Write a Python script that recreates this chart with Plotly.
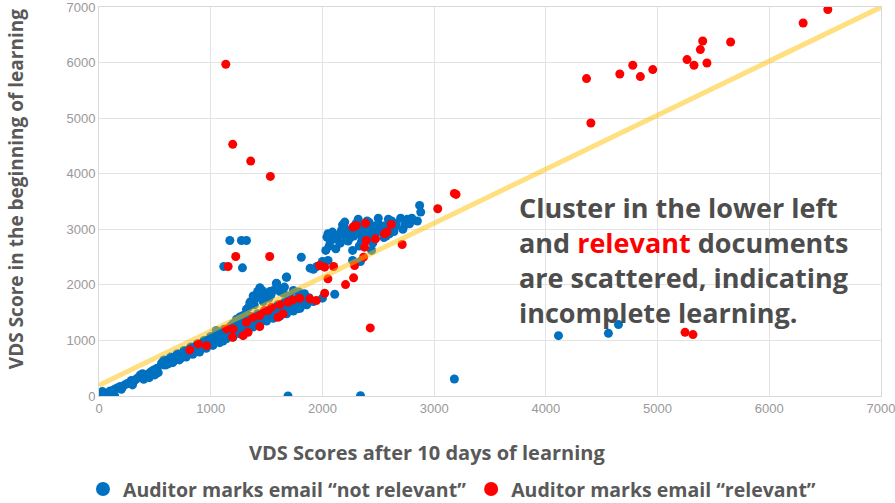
import plotly.graph_objects as go

# ---- data ----
blue_x = [10, 20, 30, 15, 40, 60, 80, 100, 120, 140, 130, 150, 170, 190, 210, 230, 250, 270, 290, 310,
          330, 350, 370, 390, 410, 430, 450, 470, 490, 510, 530, 560, 580, 600, 620, 640, 660, 680, 700, 720,
          740, 760, 780, 800, 820, 840, 860, 880, 900, 920, 940, 960, 980, 1000, 1020, 1040, 1060, 1080, 1100, 1120,
          1140, 1050, 1070, 1000, 960, 1090, 1110, 1130, 1150, 1160, 1180, 1200, 1220, 1240, 1260, 1280, 1300, 1320, 1340, 1360,
          1380, 1400, 1420, 1440, 1460, 1480, 1500, 1520, 1540, 1560, 1580, 1600, 1620, 1640, 1660, 1680, 1700, 1720, 1740, 1760,
          1780, 1800, 1820, 1840, 1200, 1230, 1260, 1290, 1320, 1340, 1360, 1380, 1400, 1420, 1440, 1460, 1480, 1500, 1520, 1540,
          1560, 1590, 1620, 1650, 1680, 1700, 1740, 1790, 1840, 1890, 1920, 1950, 1980, 2000, 2050, 2110,
          2030, 2040, 2050, 2070, 2090, 2100, 2120, 2130, 2150, 2170, 2190, 2200, 2210, 2230, 2240, 2260, 2270, 2280, 2300, 2320,
          2330, 2340, 2360, 2380, 2400, 2410, 2420, 2430, 2440, 2450, 2470, 2480, 2500, 2510, 2530, 2550, 2570, 2590, 2610, 2640,
          2660, 2700, 2720, 2740, 2760, 2780, 2870, 2880, 2340, 2270,
          580, 640, 700, 760, 820, 880, 940, 1000, 1060, 1120, 1180, 1240, 1300, 1360, 1420, 1480, 1540, 1600, 1660, 1720,
          1780, 1840, 1880,
          600, 660, 720, 780, 840, 900, 960, 1020, 1080, 1140, 1200, 1260, 1320, 1380, 1440, 1500, 1560, 1620, 1680, 1740,
          1800, 1860, 1920, 2000,
          60, 100, 200, 300, 400, 450, 500, 520, 480,
          2060, 2160, 2250, 2350, 2450, 2550, 2650, 2600, 2180, 2300, 2500, 2620, 2800, 2850,
          1350, 1420, 1480, 1530, 1610, 1660, 1390, 1470,
          1811, 1117, 1284, 1171, 1275, 1320, 1677, 1588, 1692, 2341, 3181, 4113, 4560, 4650]
blue_y = [0, 30, 80, 50, 10, 40, 60, 90, 20, 0, 110, 130, 150, 170, 160, 200, 220, 240, 280, 260,
          300, 330, 380, 400, 360, 380, 410, 440, 470, 480, 420, 590, 560, 620, 580, 650, 620, 690, 660, 720,
          690, 750, 720, 790, 760, 820, 790, 860, 830, 900, 870, 940, 910, 980, 950, 1040, 1000, 1100, 1060, 1150,
          1110, 1180, 1140, 1050, 1000, 1010, 990, 1060, 1200, 1080, 1150, 1120, 1220, 1180, 1260, 1200, 1300, 1240, 1330, 1290,
          1380, 1320, 1420, 1370, 1450, 1400, 1480, 1440, 1500, 1470, 1530, 1500, 1560, 1530, 1580, 1600, 1560, 1620, 1650, 1600,
          1570, 1680, 1720, 1700, 1300, 1380, 1420, 1450, 1560, 1600, 1700, 1800, 1750, 1880, 1950, 1900, 1850, 1800, 1760, 1820,
          1900, 2020, 1880, 1850, 2140, 1800, 1900, 1870, 1840, 2300, 2280, 2330, 2350, 2420, 2440, 1830,
          2620, 2860, 2920, 2780, 2950, 2880, 2650, 2820, 2900, 2980, 3050, 3130, 2860, 2790, 2940, 3000, 2620, 2880, 2960, 3180,
          2700, 2900, 3050, 2950, 3150, 2840, 3120, 3010, 2620, 2920, 3050, 2990, 3100, 2960, 3000, 3060, 2880, 3180, 3020, 2960,
          3100, 3200, 3000, 3080, 3180, 3100, 3430, 3310, 2420, 2440,
          650, 700, 760, 820, 880, 940, 1000, 1070, 1120, 1200, 1260, 1330, 1380, 1430, 1480, 1530, 1580, 1640, 1690, 1720,
          1760, 1800, 1770,
          560, 600, 650, 700, 750, 790, 860, 910, 960, 1030, 1060, 1120, 1180, 1240, 1300, 1350, 1400, 1440, 1480, 1530,
          1580, 1640, 1700, 1760,
          0, 30, 120, 200, 300, 330, 380, 500, 420,
          2700, 2750, 2850, 2780, 2750, 2850, 3050, 2920, 3080, 3100, 3200, 3150, 3200, 3150,
          1680, 1820, 1760, 1880, 1930, 1960, 1640, 1700,
          2497, 2330, 2306, 2798, 2798, 2798, 2137, 2029, 0, 5, 306, 1086, 1128, 1285]

red_x = [4364, 4403, 4662, 4778, 4846, 4957, 5264, 5326, 5383, 5404, 5442, 5654, 6303, 6524,
         1135, 1197, 1358, 1534, 1156, 1224, 1528, 3032, 3196, 3181, 2428, 5246, 5317,
         2273, 2303, 2386, 2392, 2475, 2377, 2368, 2556, 2577, 2616, 2714, 2288, 2279, 2207, 1975, 2020, 2100, 2049,
         2020, 1886, 1945, 1736, 1796, 1692, 1617, 1543, 1483, 1647, 1602, 1439, 1379, 1320, 1439, 1334, 1290, 1200,
         1141, 1195, 962, 888, 813, 1513]
red_y = [5712, 4912, 5795, 5951, 5748, 5874, 6054, 5951, 6234, 6389, 5993, 6371, 6713, 6955,
         5970, 4528, 4227, 3951, 2330, 2510, 2510, 3369, 3627, 3645, 1225, 1146, 1105,
         3039, 3069, 3110, 2798, 2828, 2678, 2498, 2919, 2948, 3087, 2726, 2348, 2126, 2005, 2348, 2318, 2330, 2108,
         1849, 1748, 1717, 1730, 1759, 1687, 1645, 1596, 1537, 1477, 1416, 1447, 1416, 1326, 1249, 1146, 1086, 1207,
         1207, 1056, 906, 937, 829, 1537]

trend_slope = 0.972
trend_intercept = 194
trend_x = [0, 7000]

series_names = ["Auditor marks email \u201cnot relevant\u201d", "Auditor marks email \u201crelevant\u201d"]
series_colors = ["#0070C0", "#FF0000"]
x_title = "VDS Scores after 10 days of learning"
y_title = "VDS Score in the beginning of learning"
tick_vals = [0, 1000, 2000, 3000, 4000, 5000, 6000, 7000]

GRAY = "#595959"
TXT_FONT = "Open Sans"

fig = go.Figure()
for xs, ys, nm, col in [(blue_x, blue_y, series_names[0], series_colors[0]),
                        (red_x, red_y, series_names[1], series_colors[1])]:
    fig.add_trace(go.Scatter(x=xs, y=ys, mode="markers", name=nm, legendgroup=nm, showlegend=False,
                             marker=dict(color=col, size=9, line=dict(width=0))))
fig.add_trace(go.Scatter(x=trend_x, y=[trend_intercept + trend_slope * v for v in trend_x],
                         mode="lines", showlegend=False, hoverinfo="skip",
                         line=dict(color="rgba(255,192,0,0.5)", width=5)))
# legend entries (larger legend symbols, as in the original)
for nm, col in zip(series_names, series_colors):
    fig.add_trace(go.Scatter(x=[None], y=[None], mode="markers", name=nm, legendgroup=nm,
                             marker=dict(color=col, size=14, line=dict(width=0))))

axis_common = dict(range=[0, 7000], tickvals=tick_vals, showgrid=True, gridcolor="#E3E3E3", gridwidth=1,
                   zeroline=False, showline=True, linecolor="#D9D9D9", linewidth=1, mirror=True,
                   ticks="", automargin=False, ticklabeloverflow="allow",
                   tickfont=dict(family="Liberation Sans", size=13, color="#999999"))

fig.update_layout(
    width=895, height=503,
    margin=dict(l=99, r=14, t=7, b=107, autoexpand=False),
    paper_bgcolor="white", plot_bgcolor="white",
    xaxis=dict(**axis_common),
    yaxis=dict(**axis_common),
    legend=dict(orientation="h", xref="container", yref="paper", x=0.505, xanchor="center",
                y=-0.24, yanchor="middle", itemsizing="trace",
                font=dict(family=TXT_FONT, size=19.5, color=GRAY, weight="bold"),
                itemwidth=30, tracegroupgap=0),
    showlegend=True,
)

# axis titles (placed as in the original, x title sits left of the plot centre)
fig.add_annotation(x=0.419, y=-0.144, xref="paper", yref="paper", xanchor="center", yanchor="middle",
                   showarrow=False, text=x_title,
                   font=dict(family=TXT_FONT, size=20, color=GRAY, weight="bold"))
fig.add_annotation(x=-0.106, y=0.532, xref="paper", yref="paper", xanchor="center", yanchor="middle",
                   showarrow=False, text=y_title, textangle=-90,
                   font=dict(family=TXT_FONT, size=19, color=GRAY, weight="bold"))

fig.add_annotation(
    x=3744, y=3760, xref="x", yref="y", xanchor="left", yanchor="top", align="left", showarrow=False,
    text="Cluster in the lower left<br>and <span style='color:#FF0000'>relevant</span> documents<br>"
         "are scattered, indicating<br>incomplete learning.",
    font=dict(family=TXT_FONT, size=27, color="#4D4D4D", weight="bold"),
)

fig.write_html("out.html", config={"displayModeBar": False},
               post_script="document.body.style.margin='0px';")
